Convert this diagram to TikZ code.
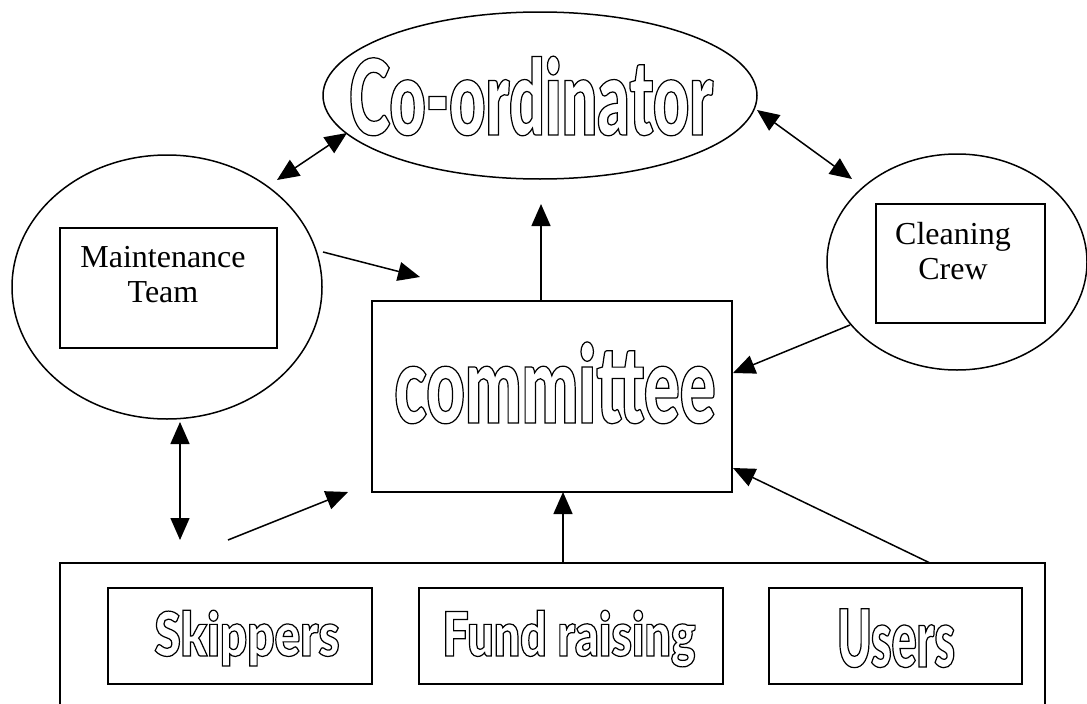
\documentclass[tikz,border=0pt]{standalone}
\usepackage{fontspec}
\setmainfont{Liberation Serif}
\usetikzlibrary{shapes.geometric,arrows.meta}
\newfontfamily\fcoord{Lato Black}[FakeStretch=0.596]
\newfontfamily\fcomm{Lato Black}[FakeStretch=0.617]
\newfontfamily\fskip{Lato Black}[FakeStretch=0.78]
\newfontfamily\ffund{Lato Black}[FakeStretch=0.76]
\newfontfamily\fusers{Lato Black}[FakeStretch=0.58]
\newcommand\olt[1]{\special{pdf:literal direct 1 Tr 1.2 w 0 G}#1\special{pdf:literal direct 0 Tr}}
\tikzset{
  box/.style={draw, line width=1.5pt, rectangle, inner sep=0pt},
  oval/.style={draw, ellipse, line width=1.5pt, inner sep=0pt},
  arr/.style={line width=1.5pt, -{Triangle[length=22pt,width=19pt]}},
  darr/.style={line width=1.5pt, {Triangle[length=22pt,width=19pt]}-{Triangle[length=22pt,width=19pt]}},
  lbl/.style={inner sep=0pt, font=\fontsize{32}{35}\selectfont, align=center, anchor=north},
  big/.style={inner sep=0pt, anchor=base},
}
\begin{document}
\begin{tikzpicture}[x=1pt,y=-1pt]
\useasboundingbox (0,0) rectangle (1087,704);
% ovals
\node[oval, minimum width=434pt, minimum height=167pt] (co) at (540,95.5) {};
\node[oval, minimum width=310pt, minimum height=264pt] (mo) at (167,287) {};
\node[oval, minimum width=260pt, minimum height=216pt] (clo) at (957,262) {};
% boxes
\node[box, minimum width=217pt, minimum height=120pt] (mb) at (168.5,288) {};
\node[box, minimum width=169pt, minimum height=119pt] (cb) at (960.5,263.5) {};
\node[box, minimum width=360pt, minimum height=191pt] (cm) at (552,396.5) {};
\node[box, minimum width=985pt, minimum height=147pt] (bot) at (552.5,636.5) {};
\node[box, minimum width=264pt, minimum height=96pt] (sk) at (240,636) {};
\node[box, minimum width=304pt, minimum height=96pt] (fr) at (571,636) {};
\node[box, minimum width=253pt, minimum height=96pt] (us) at (895.5,636) {};
% texts
\node[big, font=\fcoord\fontsize{105}{105}\selectfont] (cot) at (531,135) {\olt{Co-ordinator}};
\node[big, font=\fcomm\fontsize{108}{108}\selectfont] (cmt) at (555,423) {\olt{committee}};
\node[big, font=\fskip\fontsize{61}{61}\selectfont] (skt) at (247,656) {\olt{Skippers}};
\node[big, font=\ffund\fontsize{61}{61}\selectfont] (frt) at (569,656) {\olt{Fund raising}};
\node[big, font=\fusers\fontsize{80}{80}\selectfont] (ust) at (896,667) {\olt{Users}};
\node[lbl] (mt) at (163,246) {Maintenance\\Team};
\node[lbl] (ct) at (953,222) {Cleaning\\Crew};
% connector end points
\coordinate (a1s) at (277,180); \coordinate (a1e) at (347,133);
\coordinate (a2s) at (757,110); \coordinate (a2e) at (852,179);
\coordinate (a3s) at (323,252); \coordinate (a3e) at (420,277);
\coordinate (a4s) at (541,301); \coordinate (a4e) at (541,204);
\coordinate (a5s) at (850,325); \coordinate (a5e) at (733,373);
\coordinate (a6s) at (180,422); \coordinate (a6e) at (180,540);
\coordinate (a7s) at (228,540); \coordinate (a7e) at (348,492);
\coordinate (a8s) at (563,563); \coordinate (a8e) at (563,492);
\coordinate (a9s) at (930,563); \coordinate (a9e) at (733,468);
% connectors
\draw[darr] (a1s) -- (a1e);
\draw[darr] (a2s) -- (a2e);
\draw[arr] (a3s) -- (a3e);
\draw[arr] (a4s) -- (a4e);
\draw[arr] (a5s) -- (a5e);
\draw[darr] (a6s) -- (a6e);
\draw[arr] (a7s) -- (a7e);
\draw[arr] (a8s) -- (a8e);
\draw[arr] (a9s) -- (a9e);
\end{tikzpicture}
\end{document}
